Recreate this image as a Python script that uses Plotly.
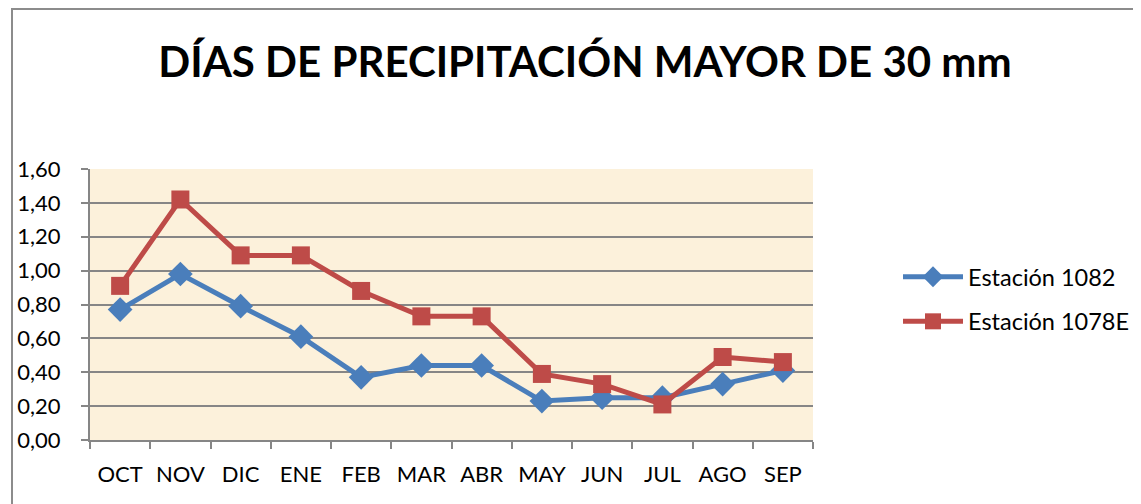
import plotly.graph_objects as go

months = ["OCT", "NOV", "DIC", "ENE", "FEB", "MAR", "ABR", "MAY", "JUN", "JUL", "AGO", "SEP"]
est_1082 = [0.77, 0.98, 0.79, 0.61, 0.37, 0.44, 0.44, 0.23, 0.25, 0.25, 0.33, 0.41]
est_1078e = [0.91, 1.42, 1.09, 1.09, 0.88, 0.73, 0.73, 0.39, 0.33, 0.21, 0.49, 0.46]
y_ticks = [0.0, 0.2, 0.4, 0.6, 0.8, 1.0, 1.2, 1.4, 1.6]

OFF = 8  # page body margin offset
W, H = 1141 - OFF, 504 - OFF
# plot area in screen pixels
SL, SR, ST, SB = 90, 813, 169, 440
L, R, T, B = SL - OFF, SR - OFF, ST - OFF, SB - OFF
FONT = "Lato, Calibri, Carlito, sans-serif"

fig = go.Figure()
fig.add_trace(go.Scatter(
    x=months, y=est_1082, name="Estación 1082", mode="lines+markers",
    line=dict(color="#4A7EBB", width=5),
    marker=dict(symbol="diamond", size=19, color="#4A7EBB"),
    legendgroup="a",
))
fig.add_trace(go.Scatter(
    x=months, y=est_1078e, name="Estación 1078E", mode="lines+markers",
    line=dict(color="#BE4B48", width=5),
    marker=dict(symbol="square", size=18, color="#BE4B48"),
    legendgroup="b",
))

pw, ph = R - L, B - T
def px_x(s):
    return (s - OFF - L) / pw
def px_y(s):
    return (B - (s - OFF)) / ph

fig.update_layout(
    width=W, height=H,
    margin=dict(l=L, r=W - R, t=T, b=H - B, pad=0, autoexpand=False),
    paper_bgcolor="white",
    plot_bgcolor="#FCF1DB",
    separators=",.",
    font=dict(family=FONT, size=22, color="black"),
    title=dict(
        text="<b>DÍAS DE PRECIPITACIÓN MAYOR DE 30 mm</b>",
        x=(585 - OFF) / W, xref="container", xanchor="center",
        y=1 - (62 - OFF) / H, yref="container", yanchor="middle",
        font=dict(family=FONT, size=42, color="black"),
    ),
    showlegend=True,
    legend=dict(
        x=px_x(898), y=px_y(255), xanchor="left", yanchor="top",
        font=dict(family=FONT, size=23.5, color="black"),
        bgcolor="rgba(0,0,0,0)", tracegroupgap=11, traceorder="grouped",
        itemwidth=60,
    ),
    xaxis=dict(
        type="category", range=[-0.5, 11.5], tickangle=0, automargin=False,
        showline=True, linecolor="#868686", linewidth=2,
        ticks="outside", tickson="boundaries", ticklen=7, tickwidth=2, tickcolor="#868686",
        showgrid=False, tickfont=dict(family=FONT, size=22),
        ticklabelstandoff=14,
    ),
    yaxis=dict(
        range=[0, 1.6], tickvals=y_ticks, tickformat=".2f", automargin=False,
        showline=True, linecolor="#868686", linewidth=2,
        ticks="outside", ticklen=7, tickwidth=2, tickcolor="#868686",
        showgrid=True, gridcolor="#868686", gridwidth=2,
        zeroline=False, tickfont=dict(family=FONT, size=22),
        ticklabelstandoff=16,
    ),
    shapes=[dict(
        type="rect", xref="paper", yref="paper",
        x0=px_x(12), x1=px_x(1170), y0=px_y(9), y1=px_y(530),
        line=dict(color="#8C8C8C", width=2), fillcolor="rgba(0,0,0,0)", layer="below",
    )],
)

fig.write_html("out.html")
